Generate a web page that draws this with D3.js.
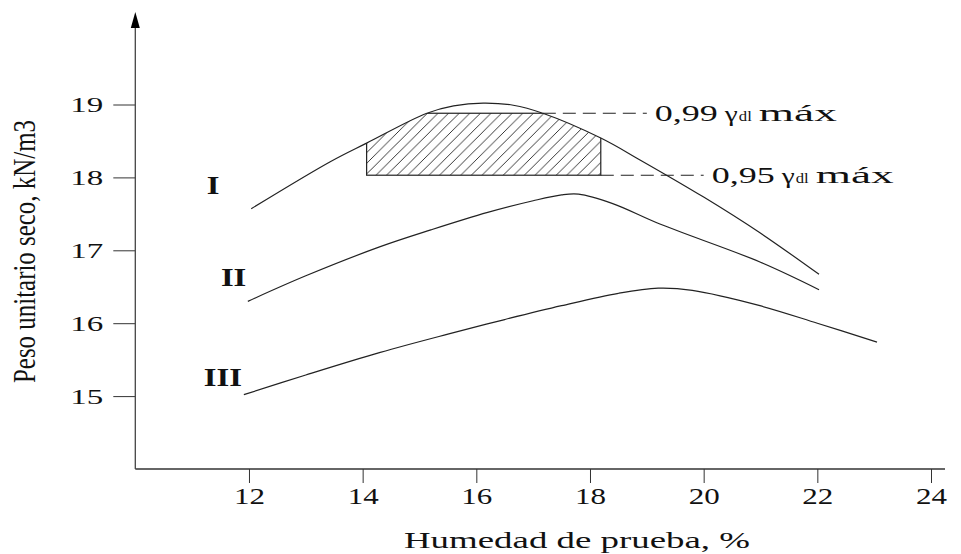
<!DOCTYPE html>
<html>
<head>
<meta charset="utf-8">
<script src="https://d3js.org/d3.v7.min.js"></script>
<style>
body { margin: 0; background: #fff; }
svg { display: block; }
text { font-family: 'Liberation Serif', 'Times New Roman', serif; fill: #111; }
</style>
</head>
<body>
<div id="plot"></div>
<script>
// curves (moisture %, dry unit weight kN/m3)
var curveI_x = [12.04, 13.43, 14.07, 15.13, 15.6, 16.12, 16.65, 17.17, 18.19, 18.88, 20.0, 20.99, 22.03];
var curveI_y = [17.57, 18.215, 18.47, 18.88, 18.98, 19.02, 18.99, 18.88, 18.54, 18.24, 17.73, 17.24, 16.67];
var curveII_x = [11.98, 13.0, 14.31, 15.2, 16.2, 17.0, 17.5, 17.8, 18.4, 19.23, 20.99, 22.03];
var curveII_y = [16.30, 16.65, 17.05, 17.28, 17.52, 17.68, 17.76, 17.77, 17.64, 17.36, 16.84, 16.46];
var curveIII_x = [11.91, 13.0, 14.31, 15.5, 16.5, 17.5, 18.5, 19.2, 19.8, 20.99, 22.0, 23.05];
var curveIII_y = [15.02, 15.29, 15.60, 15.85, 16.05, 16.24, 16.41, 16.48, 16.45, 16.24, 16.0, 15.74];

var xTicks = [12, 14, 16, 18, 20, 22, 24];
var yTicks = [15, 16, 17, 18, 19];
var curveNames = ["I", "II", "III"];
var namePos = [[11.37, 17.77], [11.73, 16.51], [11.54, 15.14]];

// hatched zone between 0.95 and 0.99 of max
var hatchX = [14.07, 18.19];
var level99 = 18.88, level95 = 18.03;
var dash99 = [17.17, 19.0], dash95 = [18.19, 20.0];

var W = 961, H = 554;
var svg = d3.select("#plot").append("svg").attr("width", W).attr("height", H);

var x = d3.scaleLinear().domain([10, 24]).range([135.3, 931]);
var y = d3.scaleLinear().domain([14, 20]).range([469, 31.6]);

var smooth = d3.curveCatmullRom.alpha(0.5);
var line = d3.line().curve(smooth)
    .x(function(d) { return x(d[0]); })
    .y(function(d) { return y(d[1]); });

function pts(xs, ys) { return xs.map(function(v, i) { return [v, ys[i]]; }); }
var curves = [pts(curveI_x, curveI_y), pts(curveII_x, curveII_y), pts(curveIII_x, curveIII_y)];

// hatch pattern + clip under curve I
var defs = svg.append("defs");
var pat = defs.append("pattern").attr("id", "hatch")
    .attr("patternUnits", "userSpaceOnUse").attr("width", 10.6).attr("height", 10.6);
pat.append("path").attr("d", "M-1,1 l2,-2 M0,10.6 l10.6,-10.6 M9.6,11.6 l2,-2")
    .attr("stroke", "#222").attr("stroke-width", 0.9);

var area = d3.area().curve(smooth)
    .x(function(d) { return x(d[0]); })
    .y0(y(14))
    .y1(function(d) { return y(d[1]); });
defs.append("clipPath").attr("id", "under").append("path").attr("d", area(curves[0]));

svg.append("rect")
    .attr("clip-path", "url(#under)")
    .attr("x", x(hatchX[0])).attr("y", y(level99))
    .attr("width", x(hatchX[1]) - x(hatchX[0]))
    .attr("height", y(level95) - y(level99))
    .attr("fill", "url(#hatch)")
    .attr("stroke", "#222").attr("stroke-width", 1.2);

// dashed reference lines
[[dash99, level99], [dash95, level95]].forEach(function(d) {
  svg.append("line")
      .attr("x1", x(d[0][0])).attr("x2", x(d[0][1]))
      .attr("y1", y(d[1])).attr("y2", y(d[1]))
      .attr("stroke", "#222").attr("stroke-width", 1.1)
      .attr("stroke-dasharray", "13,7");
});

// curves
svg.selectAll(".curve").data(curves).enter().append("path")
    .attr("class", "curve")
    .attr("fill", "none").attr("stroke", "#222").attr("stroke-width", 1.2)
    .attr("d", line);

// curve names
svg.selectAll(".cname").data(curveNames).enter().append("text")
    .attr("class", "cname")
    .attr("x", function(d, i) { return x(namePos[i][0]); })
    .attr("y", function(d, i) { return y(namePos[i][1]); })
    .attr("text-anchor", "middle")
    .style("font-size", "26px").style("font-weight", "bold")
    .attr("textLength", function(d) { return d.length * 12.7; })
    .attr("lengthAdjust", "spacingAndGlyphs")
    .text(function(d) { return d; });

// axes
var gx = svg.append("g").attr("transform", "translate(0," + y(14) + ")")
    .call(d3.axisBottom(x).tickValues(xTicks).tickFormat(d3.format("d")).tickSize(14).tickPadding(5));
gx.select(".domain").remove();
gx.selectAll("line").attr("stroke", "#333");
gx.selectAll("text").style("font-size", "23px").style("font-family", "'Liberation Serif', serif")
    .attr("fill", "#111").attr("textLength", 31).attr("lengthAdjust", "spacingAndGlyphs");

var gy = svg.append("g").attr("transform", "translate(" + x(10) + ",0)")
    .call(d3.axisLeft(y).tickValues(yTicks).tickFormat(d3.format("d")).tickSize(22).tickPadding(10));
gy.select(".domain").remove();
gy.selectAll("line").attr("stroke", "#333");
gy.selectAll("text").style("font-size", "22px").style("font-family", "'Liberation Serif', serif")
    .attr("fill", "#111").attr("textLength", 33).attr("lengthAdjust", "spacingAndGlyphs");

svg.append("line")
    .attr("x1", x(10)).attr("x2", 945).attr("y1", y(14)).attr("y2", y(14))
    .attr("stroke", "#333").attr("stroke-width", 1.3);
svg.append("line")
    .attr("x1", x(10)).attr("x2", x(10)).attr("y1", y(14)).attr("y2", 26)
    .attr("stroke", "#444").attr("stroke-width", 1.3);
svg.append("path")
    .attr("d", "M" + x(10) + ",12 L" + (x(10) - 4.5) + ",28 L" + (x(10) + 4.5) + ",28 Z")
    .attr("fill", "#000");

// annotations
function annot(label, xv, yv) {
  var bx = x(xv) + 8, by = y(yv) + 8;
  svg.append("text").attr("x", bx).attr("y", by).style("font-size", "24px")
      .attr("textLength", 63).attr("lengthAdjust", "spacingAndGlyphs").text(label);
  svg.append("text").attr("x", bx + 70).attr("y", by).style("font-size", "22px")
      .attr("textLength", 13).attr("lengthAdjust", "spacingAndGlyphs").text("γ");
  svg.append("text").attr("x", bx + 84).attr("y", by).style("font-size", "14px")
      .attr("textLength", 13).attr("lengthAdjust", "spacingAndGlyphs").text("dl");
  svg.append("text").attr("x", bx + 104).attr("y", by).style("font-size", "24px")
      .attr("textLength", 78).attr("lengthAdjust", "spacingAndGlyphs").text("máx");
}
annot("0,99", dash99[1], level99);
annot("0,95", dash95[1], level95);

// axis titles
svg.append("text")
    .attr("x", 404).attr("y", 548)
    .style("font-size", "23px")
    .attr("textLength", 346).attr("lengthAdjust", "spacingAndGlyphs")
    .text("Humedad de prueba, %");

svg.append("text")
    .attr("text-anchor", "middle")
    .attr("transform", "translate(35," + 251.5 + ")rotate(-90)")
    .style("font-size", "32px")
    .attr("textLength", 263).attr("lengthAdjust", "spacingAndGlyphs")
    .text("Peso unitario seco, kN/m3");
</script>
</body>
</html>
